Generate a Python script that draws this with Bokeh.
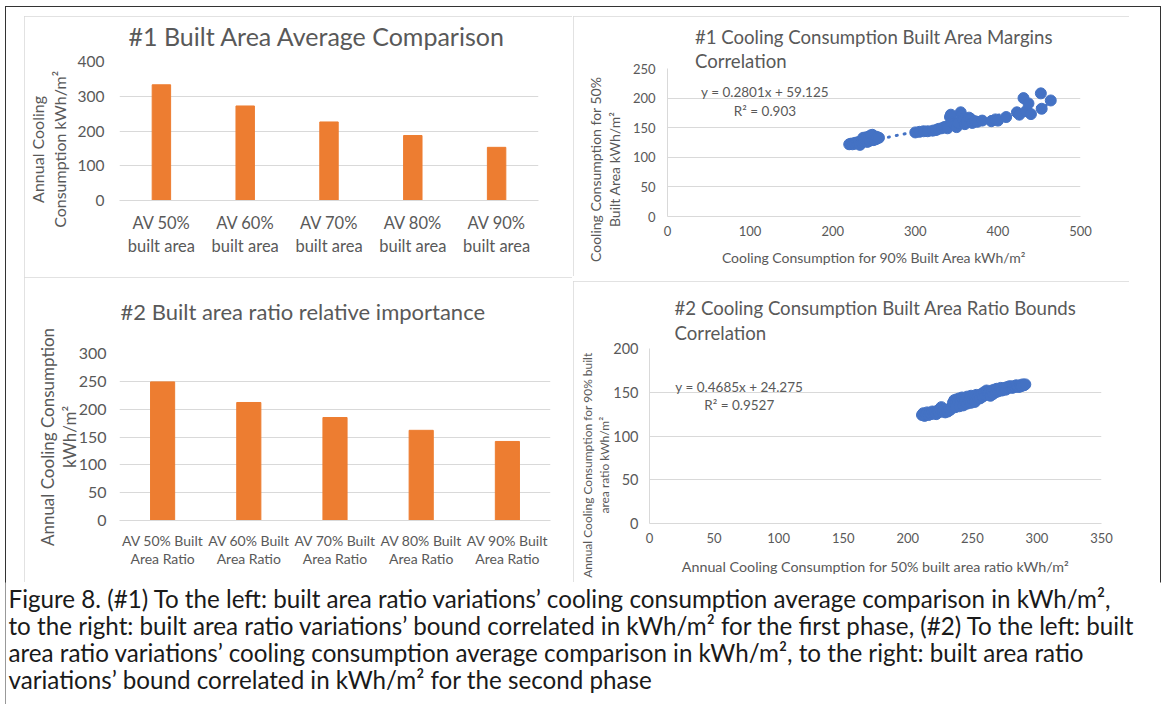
from bokeh.plotting import figure
from bokeh.models import Range1d, FactorRange, Label, Spacer, Title
from bokeh.layouts import column, row
from bokeh.embed import file_html
from bokeh.resources import INLINE
from bokeh.core.properties import value

# ---------------- data ----------------
cats1 = ["AV 50%\nbuilt area", "AV 60%\nbuilt area", "AV 70%\nbuilt area",
         "AV 80%\nbuilt area", "AV 90%\nbuilt area"]
vals1 = [333, 272, 226, 187, 153]

cats3 = ["AV 50% Built\nArea Ratio", "AV 60% Built\nArea Ratio", "AV 70% Built\nArea Ratio",
         "AV 80% Built\nArea Ratio", "AV 90% Built\nArea Ratio"]
vals3 = [249, 212, 185, 162, 142]

# chart 2: x = 90% built area, y = 50% built area
x2 = [220, 222, 224, 226, 227, 229, 230, 232, 233, 235, 236, 237, 238, 239, 240,
      241, 242, 243, 244, 245, 246, 247, 248, 249, 250, 251, 252, 253, 254, 256,
      300, 305, 310, 315, 321, 325, 328, 332, 335, 338, 339, 342, 343, 344, 346,
      348, 350, 352, 355, 356, 357, 358, 360, 362, 365, 367, 369, 372, 375, 381,
      392, 397, 400, 410, 423, 426, 431, 434, 437, 440, 452, 453, 464]
y2 = [122, 123, 122, 124, 123, 125, 124, 126, 121, 125, 128, 133, 127, 131, 129,
      134, 126, 130, 135, 128, 137, 131, 138, 129, 133, 130, 135, 131, 134, 133,
      142, 143, 144, 144, 145, 146, 148, 149, 151, 152, 149, 168, 172, 159, 157,
      154, 151, 158, 176, 170, 165, 162, 156, 160, 167, 165, 158, 161, 160, 162,
      161, 164, 162, 168, 176, 172, 200, 178, 191, 173, 208, 182, 196]
slope2, icpt2 = 0.2801, 59.125
eq2 = ["y = 0.2801x + 59.125", "R² = 0.903"]

# chart 4: x = 50% built area ratio, y = 90% built area ratio
x4 = [211, 212, 213, 214, 215, 216, 217, 218, 219, 220, 221, 222, 223, 224, 225,
      226, 227, 228, 229, 230, 231, 232, 233, 234,
      235, 236, 237, 237, 238, 239, 240, 240, 241, 242, 243, 243, 244, 245, 246,
      246, 247, 248, 249, 249, 250, 251, 252, 252, 253, 254, 255, 256, 257, 258,
      259, 260, 261, 262,
      263, 264, 265, 266, 267, 268, 269, 270, 271, 272, 273, 274, 275, 276, 277,
      278, 279, 280, 281, 282, 283, 284, 285, 286, 287, 288, 289, 290, 291]
y4 = [124, 126, 123, 125, 127, 124, 126, 125, 128, 126, 127, 125, 129, 127, 131,
      133, 128, 130, 127, 129, 128, 131, 130, 133,
      138, 141, 140, 133, 142, 139, 143, 134, 141, 144, 142, 135, 140, 143, 145,
      137, 141, 144, 146, 138, 142, 145, 143, 139, 147, 144, 146, 143, 148, 145,
      150, 147, 152, 149,
      150, 146, 152, 148, 153, 150, 154, 151, 153, 155, 152, 154, 155, 153, 156,
      155, 157, 156, 155, 157, 156, 158, 157, 156, 158, 157, 159, 158, 159]
slope4, icpt4 = 0.4685, 24.275
eq4 = ["y = 0.4685x + 24.275", "R² = 0.9527"]

caption_lines = [
    "Figure 8. (#1) To the left: built area ratio variations\u2019 cooling consumption average comparison in kWh/m\u00b2,",
    "to the right: built area ratio variations\u2019 bound correlated in kWh/m\u00b2 for the first phase, (#2) To the left: built",
    "area ratio variations\u2019 cooling consumption average comparison in kWh/m\u00b2, to the right: built area ratio",
    "variations\u2019 bound correlated in kWh/m\u00b2 for the second phase",
]

# ---------------- style ----------------
TXT = "#595959"
GRID = "#D9D9D9"
ORANGE = "#ED7D31"
BLUE = "#4472C4"
FONT = "Lato"
FRAME_STYLE = {"outline": "1px solid #D9D9D9", "outline-offset": "-1px"}
NB = "\u00a0"


def pad_lines(lines, n):
    # trailing no-break spaces push a rotated, centred label toward the axis bottom
    return "\n".join(s + NB * n for s in lines)


def base_axes(p):
    for ax in (p.xaxis[0], p.yaxis[0]):
        ax.major_tick_line_color = None
        ax.minor_tick_line_color = None
        ax.major_tick_out = 0
        ax.major_tick_in = 0
        ax.minor_tick_out = 0
        ax.minor_tick_in = 0
        ax.major_label_text_color = TXT
        ax.major_label_text_font = FONT
        ax.axis_label_text_color = TXT
        ax.axis_label_text_font = FONT
        ax.axis_label_text_font_style = "normal"
    p.outline_line_color = None
    p.title.text_color = TXT
    p.title.text_font = FONT
    p.title.text_font_style = "normal"


def safe_set(obj, name, v, fallback):
    try:
        setattr(obj, name, v)
    except Exception:
        setattr(obj, name, fallback)


def lifted_title(p, text, size, offset, lift):
    # an invisible spacer title sits between the frame and the real title
    p.add_layout(Title(text=" ", text_font_size="1px", standoff=lift), "above")
    p.add_layout(Title(text=text, text_font=FONT, text_font_size=size, text_color=TXT,
                       text_font_style="normal", align="left", offset=offset, standoff=0),
                 "above")


# ---- chart 1 ----
p1 = figure(x_range=FactorRange(*cats1), y_range=Range1d(0, 400), width=548, height=261,
            output_backend="svg", toolbar_location=None,
            min_border_left=91, min_border_right=34, min_border_top=45, min_border_bottom=77)
p1.vbar(x=cats1, top=vals1, width=0.22, color=ORANGE)
base_axes(p1)
lifted_title(p1, "#1 Built Area Average Comparison", "25px", 9, 8)
p1.yaxis.ticker = [0, 100, 200, 300, 400]
p1.yaxis.axis_line_color = None
p1.xaxis.axis_line_color = GRID
p1.ygrid.grid_line_color = GRID
p1.xgrid.grid_line_color = None
p1.yaxis.major_label_text_font_size = "15.5px"
p1.yaxis.major_label_standoff = 15
p1.yaxis.axis_label = pad_lines(["Annual Cooling", "Consumption kWh/m\u00b2"], 9)
p1.yaxis.axis_label_text_font_size = "16px"
p1.yaxis.axis_label_text_line_height = 1.15
p1.yaxis.axis_label_standoff = 6
p1.xaxis.major_label_text_font_size = "16.5px"
p1.xaxis.major_label_standoff = 12
p1.xaxis.major_label_text_line_height = 1.16
p1.styles = FRAME_STYLE

# ---- chart 2 ----
p2 = figure(x_range=Range1d(0, 500), y_range=Range1d(0, 250), width=556, height=260,
            output_backend="svg", toolbar_location=None,
            min_border_left=94, min_border_right=49, min_border_top=52, min_border_bottom=60)
tx2 = [min(x2), max(x2)]
p2.line(tx2, [slope2 * v + icpt2 for v in tx2], line_color=BLUE, line_width=3,
        line_dash="1 7", line_cap="round")
p2.scatter(x2, y2, size=11, color=BLUE)
base_axes(p2)
p2.title.text = "#1 Cooling Consumption Built Area Margins\nCorrelation"
p2.title.text_font_size = "18.6px"
p2.title.align = "center"
p2.title.text_line_height = 1.12
safe_set(p2.title, "standoff", -8, 0)
p2.xaxis.ticker = [0, 100, 200, 300, 400, 500]
p2.yaxis.ticker = [0, 50, 100, 150, 200, 250]
p2.xaxis.axis_line_color = GRID
p2.yaxis.axis_line_color = GRID
p2.ygrid.grid_line_color = GRID
p2.xgrid.grid_line_color = None
p2.xaxis.major_label_text_font_size = "13px"
p2.yaxis.major_label_text_font_size = "13px"
p2.xaxis.major_label_standoff = 9
p2.yaxis.major_label_standoff = 12
p2.xaxis.axis_label = "Cooling Consumption for 90% Built Area kWh/m\u00b2"
p2.xaxis.axis_label_text_font_size = "14px"
p2.xaxis.axis_label_standoff = 10
p2.yaxis.axis_label = pad_lines(["Cooling Consumption for 50%", "Built Area kWh/m\u00b2"], 15)
p2.yaxis.axis_label_text_font_size = "14px"
p2.yaxis.axis_label_text_line_height = 1.13
p2.yaxis.axis_label_standoff = 7
p2.add_layout(Label(x=118, y=211, text=eq2[0], text_align="center", text_baseline="middle",
                    text_font=FONT, text_font_size="13.5px", text_color=TXT))
p2.add_layout(Label(x=118, y=179, text=eq2[1], text_align="center", text_baseline="middle",
                    text_font=FONT, text_font_size="13.5px", text_color=TXT))
p2.styles = FRAME_STYLE

# ---- chart 3 ----
p3 = figure(x_range=FactorRange(*cats3), y_range=Range1d(0, 300), width=548, height=305,
            output_backend="svg", toolbar_location=None,
            min_border_left=95, min_border_right=22, min_border_top=76, min_border_bottom=62)
p3.vbar(x=cats3, top=vals3, width=0.28, color=ORANGE)
base_axes(p3)
lifted_title(p3, "#2 Built area ratio relative importance", "22px", 1, 26)
p3.yaxis.ticker = [0, 50, 100, 150, 200, 250, 300]
p3.yaxis.axis_line_color = None
p3.xaxis.axis_line_color = GRID
p3.ygrid.grid_line_color = GRID
p3.xgrid.grid_line_color = None
p3.yaxis.major_label_text_font_size = "16px"
p3.yaxis.major_label_standoff = 13
p3.yaxis.axis_label = "Annual Cooling Consumption\nkWh/m\u00b2"
p3.yaxis.axis_label_text_font_size = "17px"
p3.yaxis.axis_label_text_line_height = 1.03
safe_set(p3.yaxis[0], "axis_label_standoff", -4, 0)
p3.xaxis.major_label_text_font_size = "14px"
p3.xaxis.major_label_standoff = 11
p3.xaxis.major_label_text_line_height = 1.11
p3.styles = FRAME_STYLE

# ---- chart 4 ----
p4 = figure(x_range=Range1d(0, 350), y_range=Range1d(0, 200), width=556, height=301,
            output_backend="svg", toolbar_location=None,
            min_border_left=76, min_border_right=28, min_border_top=67, min_border_bottom=59)
tx4 = [min(x4), max(x4)]
p4.line(tx4, [slope4 * v + icpt4 for v in tx4], line_color=BLUE, line_width=3,
        line_dash="1 7", line_cap="round")
p4.scatter(x4, y4, size=11, color=BLUE)
base_axes(p4)
p4.title.text = "#2 Cooling Consumption Built Area Ratio Bounds\nCorrelation"
p4.title.text_font_size = "18.6px"
p4.title.align = "center"
p4.title.text_line_height = 1.12
p4.title.standoff = 9
p4.xaxis.ticker = [0, 50, 100, 150, 200, 250, 300, 350]
p4.yaxis.ticker = [0, 50, 100, 150, 200]
p4.xaxis.axis_line_color = GRID
p4.yaxis.axis_line_color = GRID
p4.ygrid.grid_line_color = GRID
p4.xgrid.grid_line_color = None
p4.xaxis.major_label_text_font_size = "13px"
p4.yaxis.major_label_text_font_size = "14.5px"
p4.xaxis.major_label_standoff = 9
p4.yaxis.major_label_standoff = 11
p4.xaxis.axis_label = "Annual Cooling Consumption for 50% built area ratio kWh/m\u00b2"
p4.xaxis.axis_label_text_font_size = "14.3px"
p4.xaxis.axis_label_standoff = 12
p4.yaxis.axis_label = pad_lines(["Annual Cooling Consumption for 90% built",
                                 "area ratio kWh/m\u00b2"], 19)
p4.yaxis.axis_label_text_font_size = "12px"
p4.yaxis.axis_label_text_line_height = 1.18
safe_set(p4.yaxis[0], "axis_label_standoff", -2, 0)
p4.add_layout(Label(x=69.5, y=156, text=eq4[0], text_align="center", text_baseline="middle",
                    text_font=FONT, text_font_size="13.5px", text_color=TXT))
p4.add_layout(Label(x=69.5, y=136, text=eq4[1], text_align="center", text_baseline="middle",
                    text_font=FONT, text_font_size="13.5px", text_color=TXT))
p4.styles = FRAME_STYLE

# ---- caption ----
CAP_W, CAP_H = 1156, 122
p5 = figure(x_range=Range1d(0, CAP_W), y_range=Range1d(3.926, -0.593), width=CAP_W, height=CAP_H,
            output_backend="svg", toolbar_location=None, x_axis_type=None, y_axis_type=None,
            min_border=0)
p5.outline_line_color = None
p5.text(x=[3] * len(caption_lines), y=list(range(len(caption_lines))), text=caption_lines,
        text_font=value(FONT), text_font_size=value("24.2px"), text_color="#1a1a1a",
        text_baseline="middle", text_align="left")

inner = column(
    Spacer(height=10, width=CAP_W),
    row(Spacer(width=19, height=261), column(p1), Spacer(width=1, height=261), column(p2)),
    row(Spacer(width=19, height=305), column(p3), Spacer(width=1, height=305),
        column(Spacer(height=4, width=556), p4)),
    p5,
    styles={"outline": "1px solid #333333", "outline-offset": "-1px"},
)

layout = column(Spacer(height=6, width=CAP_W + 5),
                row(Spacer(width=5, height=10), inner))

open("out.html", "w").write(file_html(layout, INLINE))
